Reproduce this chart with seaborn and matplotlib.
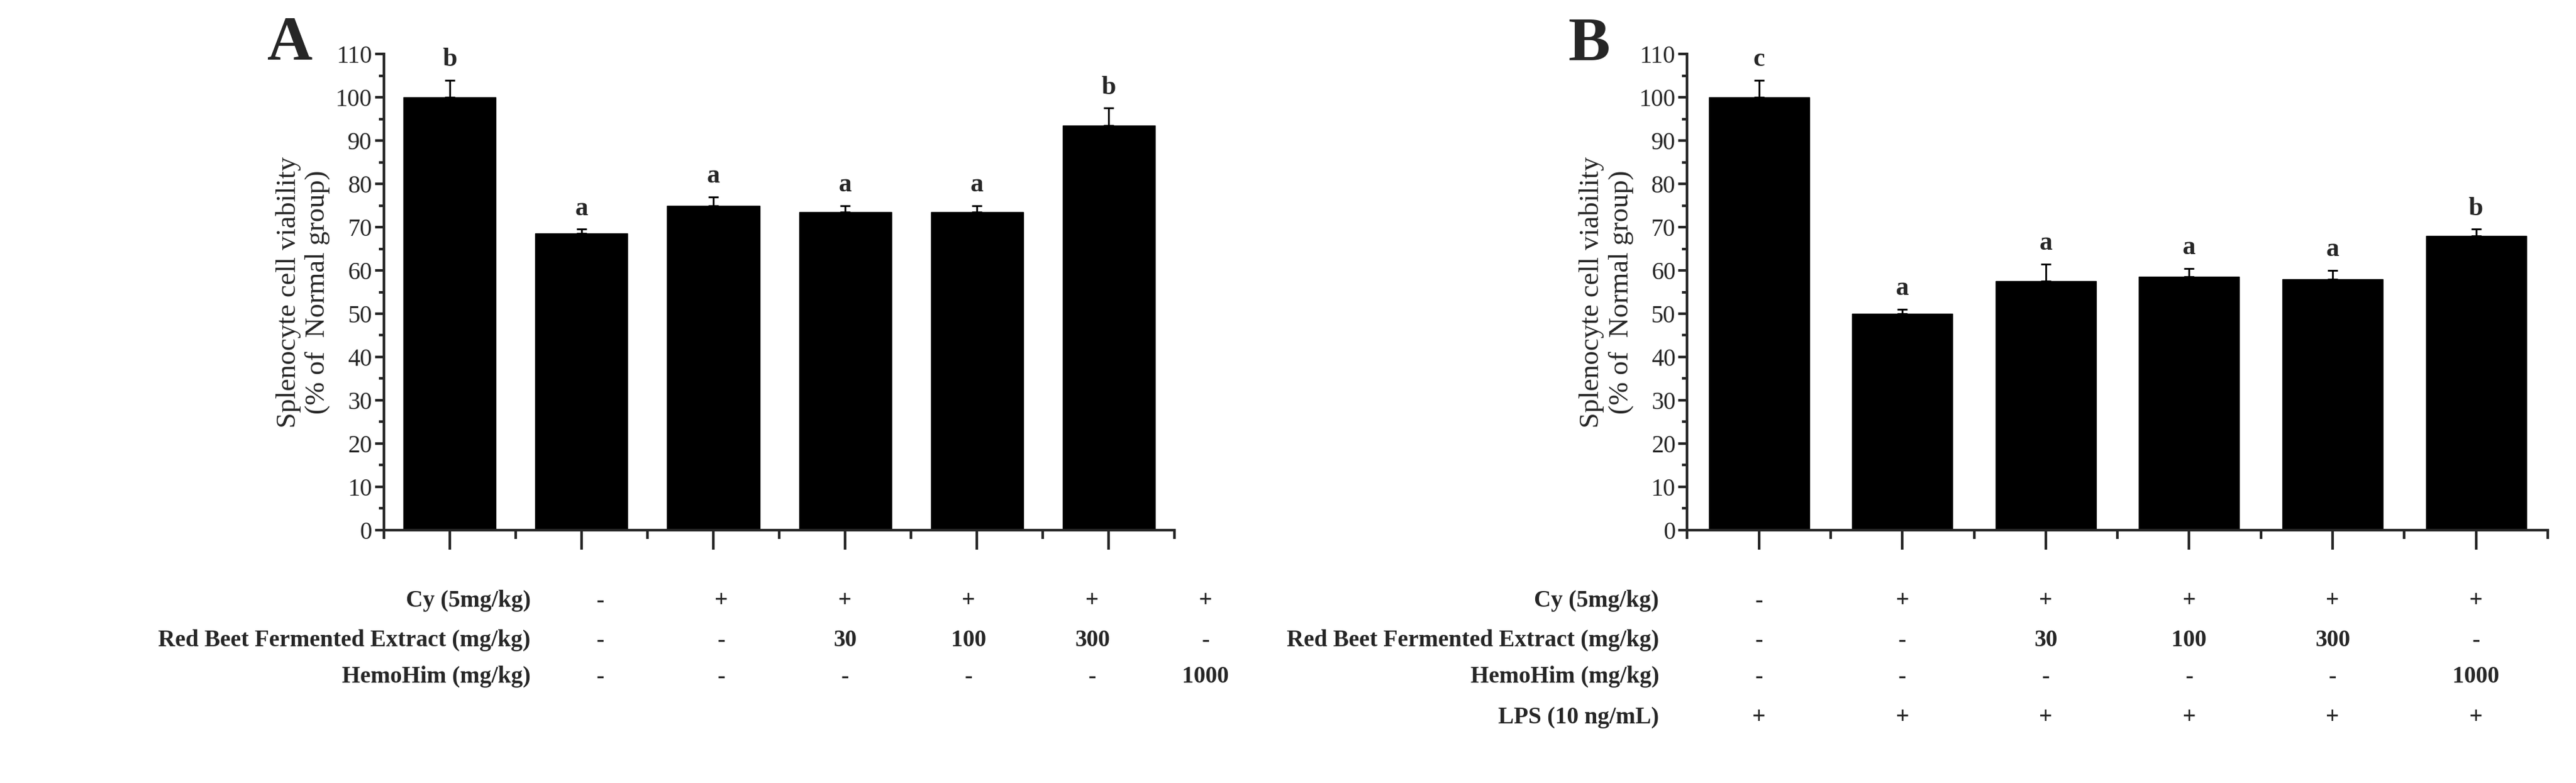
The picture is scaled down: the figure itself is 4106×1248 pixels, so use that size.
import matplotlib
matplotlib.use('Agg')
import matplotlib.pyplot as plt
import matplotlib.transforms as mtransforms
import seaborn as sns
import pandas as pd
import numpy as np

groups = ['G1', 'G2', 'G3', 'G4', 'G5', 'G6']
means_a = [100, 68.5, 75, 73.5, 73.5, 93.5]
errs_a = [4, 1, 2, 1.5, 1.5, 4]
letters_a = ['b', 'a', 'a', 'a', 'a', 'b']
means_b = [100, 50, 57.5, 58.5, 58, 68]
errs_b = [4, 1, 4, 2, 2, 1.5]
letters_b = ['c', 'a', 'a', 'a', 'a', 'b']

rows_a = ['Cy (5mg/kg)', 'Red Beet Fermented Extract (mg/kg)', 'HemoHim (mg/kg)']
vals_a = [['-', '+', '+', '+', '+', '+'],
          ['-', '-', '30', '100', '300', '-'],
          ['-', '-', '-', '-', '-', '1000']]
rows_b = rows_a + ['LPS (10 ng/mL)']
vals_b = vals_a + [['+', '+', '+', '+', '+', '+']]

sns.set_style("ticks")
plt.rcParams['font.family'] = ['Liberation Serif', 'DejaVu Serif']
plt.rcParams['font.weight'] = 'bold'

fig = plt.figure(figsize=(41.06, 12.48), dpi=100)
row_y = [0.767, 0.818, 0.864, 0.916]
# panel A's table columns sit a bit right of its bars (figure fraction)
cols_a = [0.233, 0.280, 0.328, 0.376, 0.424, 0.468]


def panel(rect, means, errs, letters, rows, vals, tag, lab_x, cols=None):
    ax = fig.add_axes(rect)
    df = pd.DataFrame({'group': groups, 'value': means})
    sns.barplot(data=df, x='group', y='value', color='black', saturation=1,
                width=0.7, edgecolor='black', ax=ax)
    x = np.arange(len(groups))
    ax.errorbar(x, means, yerr=[np.zeros(len(errs)), errs], fmt='none',
                ecolor='black', elinewidth=2, capsize=6, capthick=2)
    for xi, m, e, l in zip(x, means, errs, letters):
        ax.text(xi, m + e + 2, l, ha='center', va='bottom', fontsize=30)
    ax.set_xlim(-0.5, 5.5)
    ax.set_ylim(0, 110)
    ax.set_yticks(range(0, 111, 10))
    ax.set_yticks(range(5, 110, 10), minor=True)
    ax.set_xticks(x)
    ax.set_xticks(np.arange(-0.5, 6, 1), minor=True)
    ax.set_xticklabels([])
    ax.tick_params(axis='y', labelsize=28, width=3, length=10)
    ax.tick_params(axis='y', which='minor', width=3, length=6)
    ax.tick_params(axis='x', width=3, length=22)
    ax.tick_params(axis='x', which='minor', width=3, length=10)
    for lbl in ax.get_yticklabels():
        lbl.set_fontweight('normal')
    ax.set_xlabel('')
    ax.set_ylabel('Splenocyte cell viability\n(% of  Normal group)', fontsize=32, labelpad=6)
    for s in ['left', 'bottom']:
        ax.spines[s].set_linewidth(3)
    sns.despine(ax=ax)
    ax.text(-0.09, 1.02, tag, transform=ax.transAxes, fontsize=72, ha='right', va='center')
    if cols is None:
        trans = mtransforms.blended_transform_factory(ax.transData, fig.transFigure)
        xs = x
    else:
        trans = fig.transFigure
        xs = cols
    for r, (name, rv) in enumerate(zip(rows, vals)):
        yy = 1 - row_y[r]
        fig.text(lab_x, yy, name, ha='right', va='center', fontsize=27)
        for xi, v in zip(xs, rv):
            ax.text(xi, yy, v, transform=trans, ha='center', va='center', fontsize=27,
                    clip_on=False)
    return ax


panel([0.149, 0.323, 0.307, 0.608], means_a, errs_a, letters_a, rows_a, vals_a, 'A', 0.206, cols_a)
panel([0.655, 0.323, 0.334, 0.608], means_b, errs_b, letters_b, rows_b, vals_b, 'B', 0.644)

fig.savefig('out.png', dpi=100)
